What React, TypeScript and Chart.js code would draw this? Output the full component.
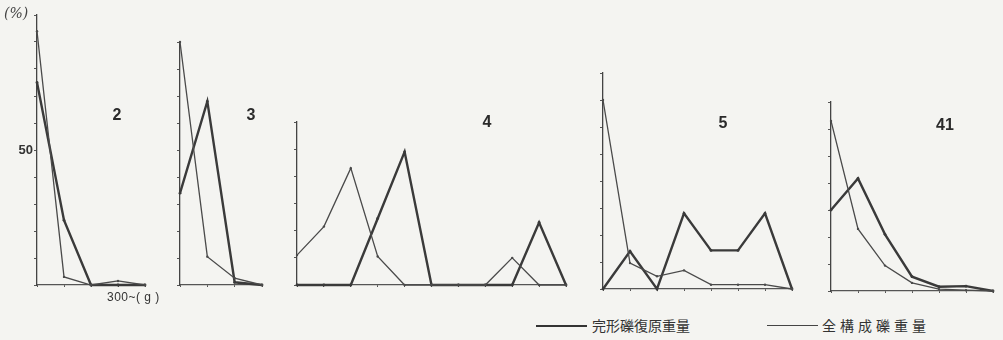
import React, { useEffect, useRef } from 'react';
import { Chart, registerables } from 'chart.js';

Chart.register(...registerables);

// ---- data (values in %) ----
// panel "2"
const CLASSES_P2 = ['1', '2', '3', '4', '5'];
const RESTORED_P2 = [75, 24, 0, 0, 0]; // 完形礫復原重量 (thick)
const TOTAL_P2 = [94, 3, 0, 1.5, 0]; // 全構成礫重量 (thin)
// panel "3"
const CLASSES_P3 = ['1', '2', '3', '4'];
const RESTORED_P3 = [34, 68, 1, 0];
const TOTAL_P3 = [90, 10.5, 2.5, 0];
// panel "4"
const CLASSES_P4 = ['1', '2', '3', '4', '5', '6', '7', '8', '9', '10', '11'];
const RESTORED_P4 = [0, 0, 0, 24.5, 49, 0, 0, 0, 0, 23, 0];
const TOTAL_P4 = [11, 21.5, 43, 10.5, 0, 0, 0, 0, 10, 0, 0];
// panel "5"
const CLASSES_P5 = ['1', '2', '3', '4', '5', '6', '7', '8'];
const RESTORED_P5 = [0, 14, 0, 28, 14.3, 14.3, 28, 0];
const TOTAL_P5 = [70, 9.6, 4.7, 6.9, 1.6, 1.6, 1.6, 0];
// panel "41"
const CLASSES_P41 = ['1', '2', '3', '4', '5', '6', '7'];
const RESTORED_P41 = [30, 41.7, 21, 5.3, 1.6, 1.8, 0];
const TOTAL_P41 = [63, 23, 9.4, 3, 0.7, 0.3, 0];

const Y_MAX = [100, 90, 60, 80, 70];
const PANEL_NAMES = ['2', '3', '4', '5', '41'];
const Y_STEP = 10;
const Y_LABELED_TICK = 50;
const LEGEND_RESTORED = '完形礫復原重量';
const LEGEND_TOTAL = '全構成礫重量';

// ---- layout ----
const AY_W = 40;
const AX_H = 16;
const PAD_T = 10;
const PAD_R = 6;
const AREAS = [
  { left: 37, right: 145, top: 15, bottom: 285 },
  { left: 180, right: 262, top: 42, bottom: 285 },
  { left: 297, right: 566, top: 122, bottom: 285 },
  { left: 603, right: 792, top: 73, bottom: 289 },
  { left: 831, right: 993, top: 102, bottom: 291 },
];
const NAME_POS = [
  { x: 117, y: 115 },
  { x: 251, y: 115 },
  { x: 487, y: 122 },
  { x: 723, y: 123 },
  { x: 945, y: 125 },
];
const INK = '#3a3a3a';
const BG = '#f4f4f1';

type PanelProps = {
  labels: string[];
  restored: number[];
  total: number[];
  max: number;
  area: { left: number; right: number; top: number; bottom: number };
  showTickLabel: boolean;
};

function Panel({ labels, restored, total, max, area, showTickLabel }: PanelProps) {
  const ref = useRef<HTMLCanvasElement | null>(null);
  const w = area.right - area.left + AY_W + PAD_R;
  const h = area.bottom - area.top + PAD_T + AX_H;
  useEffect(() => {
    if (!ref.current) return;
    const chart = new Chart(ref.current, {
      type: 'line',
      data: {
        labels,
        datasets: [
          {
            label: LEGEND_TOTAL,
            data: total,
            borderColor: '#4a4a4a',
            borderWidth: 1.3,
            pointRadius: 1.2,
            pointBackgroundColor: '#4a4a4a',
            pointBorderWidth: 0,
            tension: 0,
            clip: 6,
          },
          {
            label: LEGEND_RESTORED,
            data: restored,
            borderColor: INK,
            borderWidth: 2.4,
            pointRadius: 1.4,
            pointBackgroundColor: INK,
            pointBorderWidth: 0,
            tension: 0,
            clip: 6,
          },
        ],
      },
      options: {
        responsive: false,
        maintainAspectRatio: false,
        animation: false,
        layout: { padding: { top: PAD_T, right: PAD_R, left: 0, bottom: 0 } },
        plugins: { legend: { display: false }, tooltip: { enabled: false } },
        scales: {
          x: {
            type: 'category',
            offset: false,
            grid: { drawOnChartArea: false, drawTicks: true, tickLength: 2, color: '#555' },
            border: { display: true, color: '#555', width: 1.2 },
            ticks: { display: false },
            afterFit: (s: any) => {
              s.height = AX_H;
            },
          },
          y: {
            min: 0,
            max,
            grid: { drawOnChartArea: false, drawTicks: true, tickLength: 3, color: '#555' },
            border: { display: true, color: '#444', width: 1.3 },
            ticks: {
              stepSize: Y_STEP,
              padding: 1,
              color: '#333',
              font: { family: 'Liberation Sans Narrow, Liberation Sans', size: 13, weight: 'bold' },
              callback: (v: any) => (showTickLabel && Number(v) === Y_LABELED_TICK ? String(Y_LABELED_TICK) : ''),
            },
            afterFit: (s: any) => {
              s.width = AY_W;
            },
          },
        },
      } as any,
    });
    return () => chart.destroy();
  }, []);
  return (
    <canvas
      ref={ref}
      width={w}
      height={h}
      style={{ position: 'absolute', left: area.left - AY_W, top: area.top - PAD_T, width: w, height: h }}
    />
  );
}

const PANELS = [
  { labels: CLASSES_P2, restored: RESTORED_P2, total: TOTAL_P2 },
  { labels: CLASSES_P3, restored: RESTORED_P3, total: TOTAL_P3 },
  { labels: CLASSES_P4, restored: RESTORED_P4, total: TOTAL_P4 },
  { labels: CLASSES_P5, restored: RESTORED_P5, total: TOTAL_P5 },
  { labels: CLASSES_P41, restored: RESTORED_P41, total: TOTAL_P41 },
];

export default function App() {
  return (
    <div
      style={{
        position: 'absolute',
        left: 0,
        top: 0,
        width: 1003,
        height: 340,
        background: BG,
        overflow: 'hidden',
      }}
    >
      {PANELS.map((p, i) => (
        <Panel
          key={i}
          labels={p.labels}
          restored={p.restored}
          total={p.total}
          max={Y_MAX[i]}
          area={AREAS[i]}
          showTickLabel={i === 0}
        />
      ))}
      {PANEL_NAMES.map((n, i) => (
        <div
          key={'n' + i}
          style={{
            position: 'absolute',
            left: NAME_POS[i].x,
            top: NAME_POS[i].y,
            transform: 'translate(-50%, -50%)',
            font: 'bold 16px "Liberation Sans Narrow", "Liberation Sans", sans-serif',
            color: '#2a2a2a',
          }}
        >
          {n}
        </div>
      ))}
      <div
        style={{
          position: 'absolute',
          left: 4,
          top: 5,
          font: 'italic 14px "DejaVu Serif", serif',
          color: '#444',
        }}
      >
        (%)
      </div>
      <div
        style={{
          position: 'absolute',
          left: 107,
          top: 290,
          font: '12px "Liberation Sans", sans-serif',
          letterSpacing: '0.5px',
          color: '#333',
          whiteSpace: 'pre',
        }}
      >
        300~( g )
      </div>
      {/* legend */}
      <div style={{ position: 'absolute', left: 536, top: 325, width: 51, height: 0, borderTop: '2.2px solid #333' }} />
      <div
        style={{
          position: 'absolute',
          left: 592,
          top: 316,
          font: '14px "Noto Sans CJK JP", sans-serif',
          lineHeight: '18px',
          color: '#333',
          whiteSpace: 'pre',
        }}
      >
        {LEGEND_RESTORED}
      </div>
      <div style={{ position: 'absolute', left: 767, top: 325, width: 51, height: 0, borderTop: '1.6px solid #444' }} />
      <div
        style={{
          position: 'absolute',
          left: 822,
          top: 316,
          font: '14px "Noto Sans CJK JP", sans-serif',
          lineHeight: '18px',
          letterSpacing: '4px',
          color: '#333',
          whiteSpace: 'pre',
        }}
      >
        {LEGEND_TOTAL}
      </div>
    </div>
  );
}
